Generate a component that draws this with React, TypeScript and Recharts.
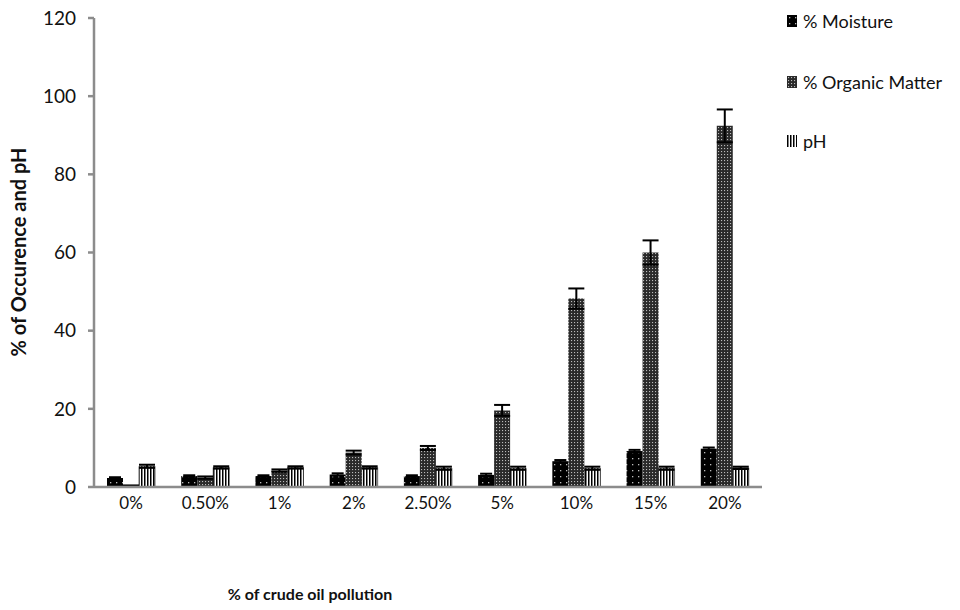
import React from 'react';
import { BarChart, Bar, XAxis, YAxis, ErrorBar } from 'recharts';

const categories = ['0%', '0.50%', '1%', '2%', '2.50%', '5%', '10%', '15%', '20%'];
const moisture = [2.3, 2.8, 2.8, 3.2, 2.8, 3.1, 6.6, 9.2, 9.8];
const moistureErr = [0.2, 0.2, 0.2, 0.3, 0.2, 0.3, 0.3, 0.3, 0.3];
const organic = [0.3, 2.4, 4.2, 8.8, 10.0, 19.6, 48.2, 60.0, 92.4];
const organicErr = [0.1, 0.3, 0.3, 0.5, 0.5, 1.4, 2.6, 3.1, 4.2];
const ph = [5.3, 5.0, 5.0, 5.0, 4.8, 4.8, 4.8, 4.8, 4.9];
const phErr = [0.4, 0.3, 0.3, 0.3, 0.4, 0.4, 0.4, 0.4, 0.3];
const yTicks = [0, 20, 40, 60, 80, 100, 120];

const data = categories.map((name, i) => ({
  name,
  moisture: moisture[i],
  moistureErr: moistureErr[i],
  organic: organic[i],
  organicErr: organicErr[i],
  ph: ph[i],
  phErr: phErr[i],
}));

const font = 'Lato, "Open Sans", sans-serif';

const Patterns = () => (
  <defs>
    <pattern id="patMoist" width="6" height="6" patternUnits="userSpaceOnUse">
      <rect width="6" height="6" fill="#000" />
      <rect x="2" y="2" width="1.3" height="1.3" fill="#bbb" />
    </pattern>
    <pattern id="patOrg" width="3" height="3" patternUnits="userSpaceOnUse">
      <rect width="3" height="3" fill="#2a2a2a" />
      <rect x="1" y="1" width="1.1" height="1.1" fill="#bbb" />
    </pattern>
    <pattern id="patPh" width="3" height="3" patternUnits="userSpaceOnUse">
      <rect width="3" height="3" fill="#fff" />
      <rect x="0" y="0" width="1.5" height="3" fill="#000" />
    </pattern>
  </defs>
);

const legendItems = [
  { label: '% Moisture', fill: 'url(#patMoist)', top: 10 },
  { label: '% Organic Matter', fill: 'url(#patOrg)', top: 71 },
  { label: 'pH', fill: 'url(#patPh)', top: 130 },
];

export default function App() {
  return (
    <div style={{ position: 'absolute', left: 0, top: 0, width: 960, height: 610, background: '#fff', fontFamily: font }}>
      <BarChart
        width={960}
        height={610}
        data={data}
        margin={{ top: 18, right: 198, left: 34, bottom: 83 }}
        barSize={16}
        barGap={0}
      >
        <Patterns />
        <XAxis
          dataKey="name"
          axisLine={{ stroke: '#8c8c8c', strokeWidth: 2.5 }}
          tickLine={false}
          tick={{ fill: '#111', fontSize: 17, fontFamily: font }}
          tickMargin={4}
          height={40}
        />
        <YAxis
          domain={[0, 120]}
          ticks={yTicks}
          width={60}
          axisLine={{ stroke: '#8c8c8c', strokeWidth: 2.5 }}
          tickLine={{ stroke: '#8c8c8c', strokeWidth: 2.5 }}
          tickSize={6}
          tickMargin={12}
          tick={{ fill: '#111', fontSize: 19, fontFamily: font }}
        />
        <Bar dataKey="moisture" fill="url(#patMoist)" isAnimationActive={false}>
          <ErrorBar dataKey="moistureErr" width={6} stroke="#000" strokeWidth={2} direction="y" />
        </Bar>
        <Bar dataKey="organic" fill="url(#patOrg)" isAnimationActive={false}>
          <ErrorBar dataKey="organicErr" width={8} stroke="#000" strokeWidth={2} direction="y" />
        </Bar>
        <Bar dataKey="ph" fill="url(#patPh)" stroke="#000" strokeWidth={0.6} isAnimationActive={false}>
          <ErrorBar dataKey="phErr" width={8} stroke="#000" strokeWidth={2} direction="y" />
        </Bar>
      </BarChart>

      <div
        style={{
          position: 'absolute',
          left: 18,
          top: 252,
          transform: 'translate(-50%, -50%) rotate(-90deg)',
          whiteSpace: 'nowrap',
          fontSize: 20,
          fontWeight: 'bold',
          color: '#111',
        }}
      >
        % of Occurence and pH
      </div>
      <div
        style={{
          position: 'absolute',
          left: 310,
          top: 593,
          transform: 'translate(-50%, -50%)',
          whiteSpace: 'nowrap',
          fontSize: 16,
          fontWeight: 'bold',
          color: '#111',
        }}
      >
        % of crude oil pollution
      </div>

      {legendItems.map((it) => (
        <div
          key={it.label}
          style={{ position: 'absolute', left: 787, top: it.top, display: 'flex', alignItems: 'center', fontSize: 18, color: '#111' }}
        >
          <svg width={10} height={12} style={{ marginRight: 6 }}>
            <rect width={10} height={12} fill={it.fill} />
          </svg>
          {it.label}
        </div>
      ))}
    </div>
  );
}
